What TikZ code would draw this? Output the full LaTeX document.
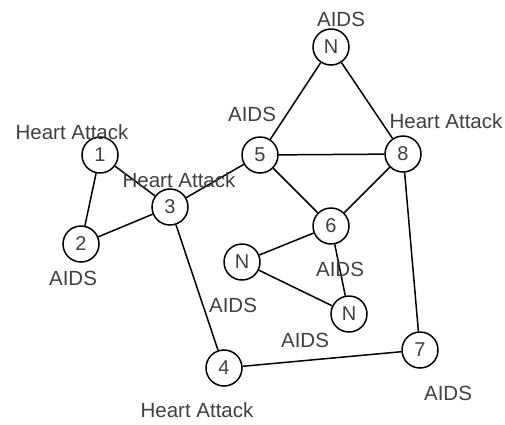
\documentclass[tikz,border=0pt]{standalone}
\usepackage{fontspec}
\setmainfont{Liberation Sans}
\begin{document}
\begin{tikzpicture}[x=1pt,y=-1pt,
  vtx/.style={circle,draw=black,line width=1.5pt,minimum size=36pt,inner sep=0pt,fill=white,text=black!75,font=\fontsize{20}{24}\selectfont},
  lab/.style={text=black!75,inner sep=0pt,font=\fontsize{20.5}{24}\selectfont},
  edge/.style={line width=1.5pt,draw=black}]
\useasboundingbox (0,0) rectangle (505,424);
\node[vtx] (n1) at (100,155) {1};
\node[vtx] (n2) at (81,244) {2};
\node[vtx] (n3) at (170,207) {3};
\node[vtx] (n4) at (224,368) {4};
\node[vtx] (n5) at (260,155) {5};
\node[vtx] (n6) at (331,226) {6};
\node[vtx] (n7) at (420,350) {7};
\node[vtx] (n8) at (403,154) {8};
\node[vtx] (nt) at (331,47) {N};
\node[vtx] (nl) at (242,262) {N};
\node[vtx] (nr) at (349,314) {N};
\draw[edge] (n1) -- (n2);
\draw[edge] (n1) -- (n3);
\draw[edge] (n2) -- (n3);
\draw[edge] (n3) -- (n5);
\draw[edge] (n3) -- (n4);
\draw[edge] (n5) -- (nt);
\draw[edge] (nt) -- (n8);
\draw[edge] (n5) -- (n8);
\draw[edge] (n5) -- (n6);
\draw[edge] (n8) -- (n6);
\draw[edge] (n6) -- (nl);
\draw[edge] (n6) -- (nr);
\draw[edge] (nl) -- (nr);
\draw[edge] (n8) -- (n7);
\draw[edge] (n4) -- (n7);
\node[lab] (l1) at (72,132) {Heart Attack};
\node[lab] (l3) at (179,180) {Heart Attack};
\node[lab] (l8) at (446,121) {Heart Attack};
\node[lab] (l4) at (197,410) {Heart Attack};
\node[lab] (lt) at (341,19) {AIDS};
\node[lab] (l5) at (252,114) {AIDS};
\node[lab] (l2) at (73,278) {AIDS};
\node[lab] (l6) at (340,269) {AIDS};
\node[lab] (ll) at (233,305) {AIDS};
\node[lab] (lr) at (305,340) {AIDS};
\node[lab] (l7) at (448,393) {AIDS};
\end{tikzpicture}
\end{document}
